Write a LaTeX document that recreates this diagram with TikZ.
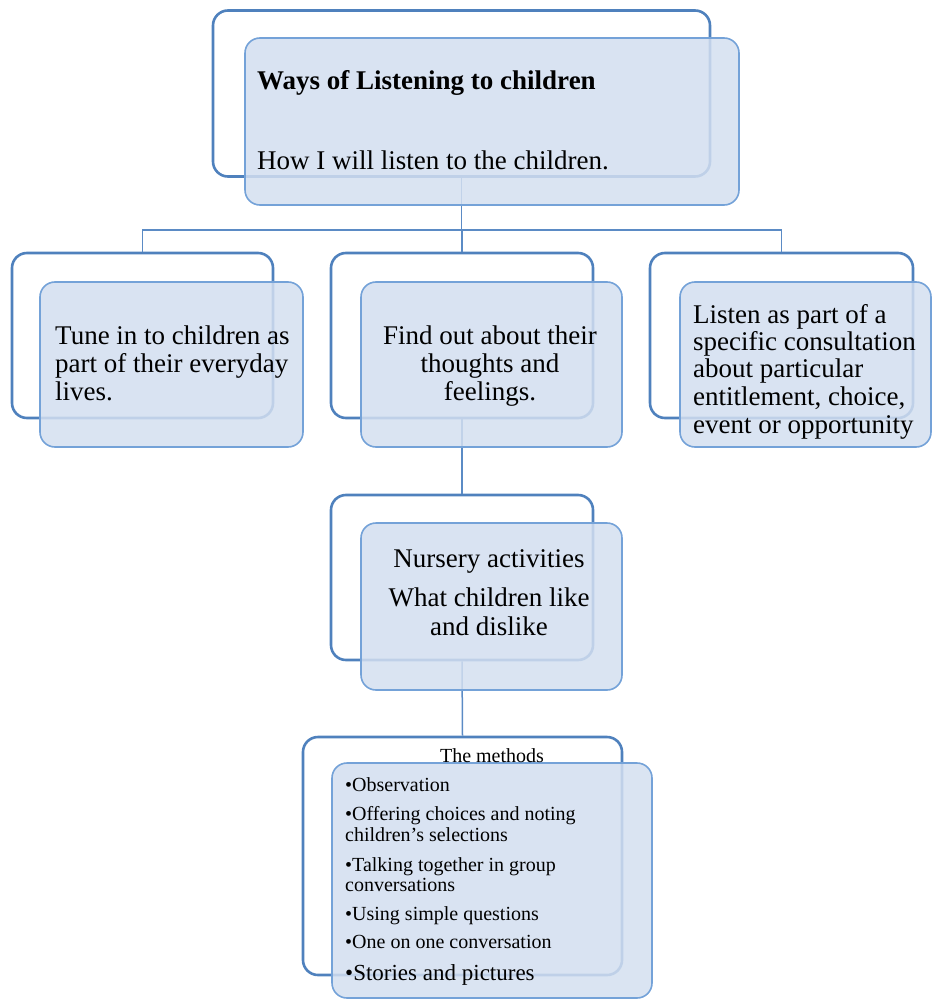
\documentclass[tikz,border=0pt]{standalone}
\usepackage{fontspec}
\setmainfont{Liberation Serif}
\definecolor{frameblue}{HTML}{4F81BD}
\definecolor{fillblue}{HTML}{D3DFF0}
\definecolor{edgeblue}{HTML}{74A2D8}
\definecolor{linkblue}{HTML}{5B8BC5}
\begin{document}
\begin{tikzpicture}[x=1pt,y=-1pt,
  backbox/.style={draw=frameblue, line width=2.6pt, fill=white, rounded corners=15pt, inner sep=0pt},
  frontbox/.style={draw=edgeblue, line width=1.6pt, fill=fillblue, fill opacity=0.85, rounded corners=15pt, inner sep=0pt},
  link/.style={draw=linkblue, line width=1.5pt},
  main/.style={font=\fontsize{27}{28.5}\selectfont, inner sep=0pt, text=black},
  small/.style={font=\fontsize{20}{21.7}\selectfont, inner sep=0pt, text=black, anchor=base west},
  big/.style={font=\fontsize{23}{24}\selectfont, inner sep=0pt, text=black, anchor=base west},
]
\useasboundingbox (0,0) rectangle (933,1000);

% back frames
\node[backbox, minimum width=497pt, minimum height=166pt] (b0) at (461.5,93.5) {};
\node[backbox, minimum width=261pt, minimum height=165pt] (b1) at (142.5,335.5) {};
\node[backbox, minimum width=262pt, minimum height=165pt] (b2) at (462,335.5) {};
\node[backbox, minimum width=263pt, minimum height=165pt] (b3) at (781.5,335.5) {};
\node[backbox, minimum width=262pt, minimum height=165pt] (b4) at (462,577.5) {};
\node[backbox, minimum width=319pt, minimum height=238pt] (b5) at (462.5,856) {};

% connectors
\coordinate (hub) at (462,230);
\draw[link] (b0.south) -- (b0.south |- hub);
\draw[link] (b1.north) |- (hub) -| (b3.north);
\draw[link] (hub) -- (b2.north);
\draw[link] (b2.south) -- (b4.north);
\draw[link] (b4.south) -- (b5.north);

% front boxes
\node[frontbox, minimum width=494pt, minimum height=167pt] (f0) at (492,121.5) {};
\node[frontbox, minimum width=263pt, minimum height=165pt] (f1) at (171.5,364.5) {};
\node[frontbox, minimum width=261pt, minimum height=165pt] (f2) at (491.5,364.5) {};
\node[frontbox, minimum width=251pt, minimum height=165pt] (f3) at (805.5,364.5) {};
\node[frontbox, minimum width=261pt, minimum height=167pt] (f4) at (491.5,606.5) {};
\node[frontbox, minimum width=320pt, minimum height=235pt] (f5) at (492,880.5) {};

% texts
\node[main, anchor=base west] (t0a) at (257,89.5) {\bfseries Ways of Listening to children};
\node[main, anchor=base west] (t0b) at (257,170) {How I will listen to the children.};

\node[main, anchor=base west] (t1a) at (55,344) {Tune in to children as};
\node[main, anchor=base west] (t1b) at (55,372.5) {part of their everyday};
\node[main, anchor=base west] (t1c) at (55,400.5) {lives.};

\node[main, anchor=base] (t2a) at (490,344) {Find out about their};
\node[main, anchor=base] (t2b) at (490,372.5) {thoughts and};
\node[main, anchor=base] (t2c) at (490,400.5) {feelings.};

\node[main, anchor=base west] (t3a) at (693,323) {Listen as part of a};
\node[main, anchor=base west] (t3b) at (693,350.5) {specific consultation};
\node[main, anchor=base west] (t3c) at (693,377.5) {about particular};
\node[main, anchor=base west] (t3d) at (693,405) {entitlement, choice,};
\node[main, anchor=base west] (t3e) at (693,433) {event or opportunity};

\node[main, anchor=base] (t4a) at (489,567) {Nursery activities};
\node[main, anchor=base] (t4b) at (489,606.5) {What children like};
\node[main, anchor=base] (t4c) at (489,635) {and dislike};

\node[small, anchor=base] (t5) at (492,762.5) {The methods};
\node[small] (m1) at (345,791.5) {•Observation};
\node[small] (m2) at (345,820) {•Offering choices and noting};
\node[small] (m2b) at (345,841.7) {children’s selections};
\node[small] (m3) at (345,871.5) {•Talking together in group};
\node[small] (m3b) at (345,891.7) {conversations};
\node[small] (m4) at (345,920) {•Using simple questions};
\node[small] (m5) at (345,948.3) {•One on one conversation};
\node[big] (m6) at (345,980) {•Stories and pictures};
\end{tikzpicture}
\end{document}
